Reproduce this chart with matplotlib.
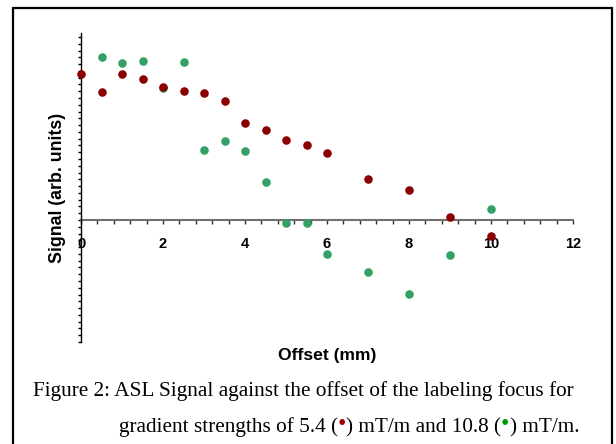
import numpy as np
import matplotlib.pyplot as plt
from matplotlib.patches import Rectangle
from matplotlib.ticker import MultipleLocator, NullFormatter

# offset (mm) and signal (arb. units)
offset_red = [0, 0.5, 1, 1.5, 2, 2.5, 3, 3.5, 4, 4.5, 5, 5.5, 6, 7, 8, 9, 10]
signal_red = [21.5, 18.9, 21.5, 20.8, 19.6, 19.1, 18.7, 17.6, 14.3, 13.3,
              11.8, 11.0, 9.9, 6.0, 4.5, 0.4, -2.3]

offset_green = [0.5, 1, 1.5, 2, 2.5, 3, 3.5, 4, 4.5, 5, 5.5, 6, 7, 8, 9, 10]
signal_green = [24.0, 23.1, 23.5, 19.5, 23.3, 10.3, 11.7, 10.2, 5.6, -0.5,
                -0.5, -5.0, -7.6, -10.9, -5.2, 1.7]

x_major = [0, 2, 4, 6, 8, 10, 12]

red = '#8B0000'
green = '#33A066'
W, H = 616, 444

fig = plt.figure(figsize=(6.16, 4.44), dpi=100)

# frame round the figure (open at the bottom)
fig.patches.append(Rectangle((12.5 / W, -0.05), 599 / W, 1 - 8 / H + 0.05,
                             transform=fig.transFigure, fill=False,
                             edgecolor='black', linewidth=1.6))

ax = fig.add_axes([81 / W, 102 / H, 492 / W, 309 / H])
ax.scatter(offset_green, signal_green, s=38, color=green, zorder=3, clip_on=False, linewidths=0)
ax.scatter(offset_red, signal_red, s=38, color=red, zorder=4, clip_on=False, linewidths=0)

ax.set_xlim(0, 12)
ax.set_ylim(-18, 27.6)

for side in ['top', 'right']:
    ax.spines[side].set_visible(False)
ax.spines['left'].set_position(('data', 0))
ax.spines['left'].set_color('black')
ax.spines['left'].set_linewidth(1.0)
ax.spines['bottom'].set_position(('data', 0))
ax.spines['bottom'].set_color('#707070')
ax.spines['bottom'].set_linewidth(1.5)
ax.spines['bottom'].set_zorder(2)

ax.set_xticks(x_major)
ax.set_xticklabels([str(v) for v in x_major], fontweight='bold', fontsize=10.5,
                   family='Liberation Sans')
ax.xaxis.set_minor_locator(MultipleLocator(0.4))
ax.tick_params(axis='x', which='both', direction='out', length=3, width=1,
               color='#303030', pad=9)

ax.yaxis.set_major_locator(MultipleLocator(1))
ax.yaxis.set_major_formatter(NullFormatter())
ax.tick_params(axis='y', which='both', direction='out', length=2.5, width=1, color='black')

fig.text(327 / W, 1 - 355 / H, 'Offset (mm)', ha='center', va='center',
         fontsize=12.6, fontweight='bold', family='Liberation Sans')
fig.text(57 / W, 1 - 188 / H, 'Signal (arb. units)', ha='center', va='center',
         rotation=90, fontsize=12.8, fontweight='bold', family='Liberation Sans')

# caption
cap = dict(family='Liberation Serif', fontsize=15.3, va='baseline')
fig.text(33 / W, 1 - 396 / H, 'Figure 2: ASL Signal against the offset of the labeling focus for',
         ha='left', **cap)

# second line, placed piece by piece so it ends flush with the first line
pieces = [('gradient strengths of 5.4 (', 'black', 0, 15.3), ('\u2022', '#990000', 2, 17),
          (') mT/m and 10.8 (', 'black', 0, 15.3), ('\u2022', '#009900', 2, 17),
          (') mT/m.', 'black', 0, 15.3)]
renderer = fig.canvas.get_renderer()
widths = []
for txt, col, dy, fs in pieces:
    tmp = fig.text(0, 0, txt, family='Liberation Serif', fontsize=fs)
    widths.append(tmp.get_window_extent(renderer).width)
    tmp.remove()
x = 579 - sum(widths)
for (txt, col, dy, fs), w in zip(pieces, widths):
    fig.text(x / W, 1 - (432 - dy) / H, txt, color=col, ha='left', va='baseline',
             family='Liberation Serif', fontsize=fs)
    x += w

fig.savefig('out.png', dpi=100)
